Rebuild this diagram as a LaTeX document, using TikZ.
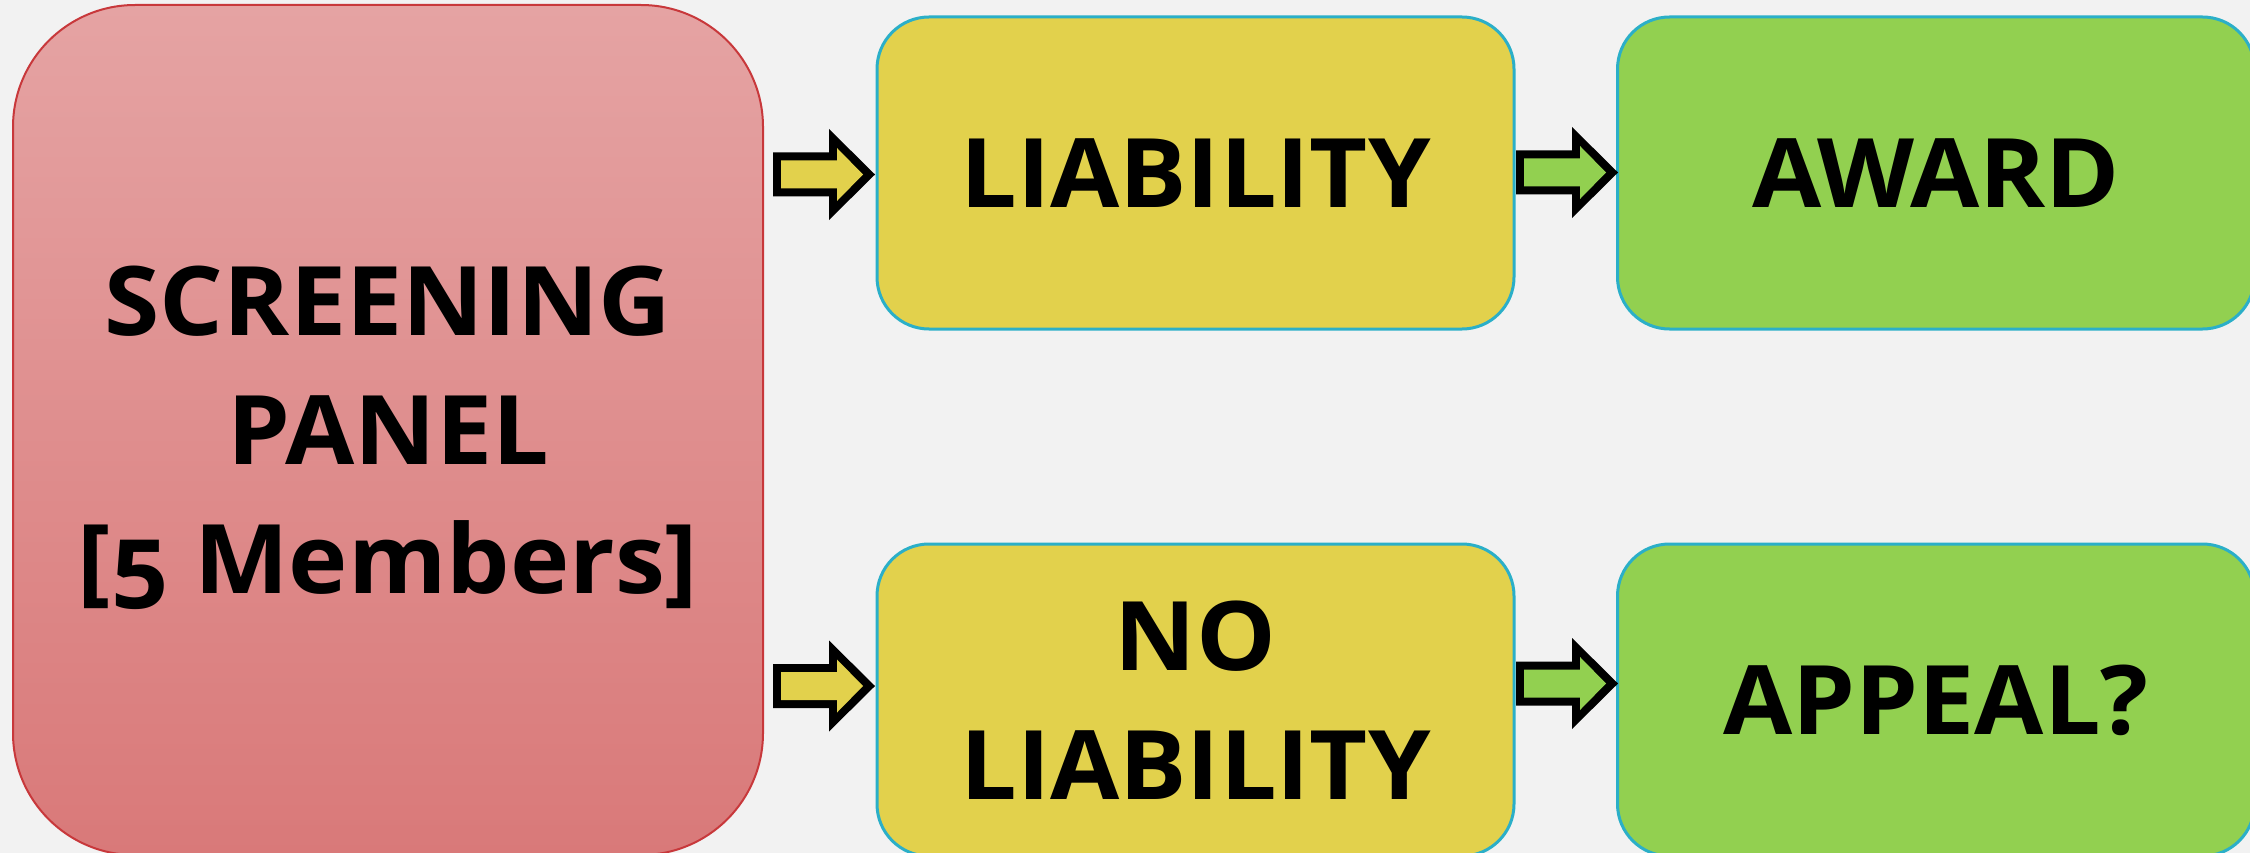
\documentclass[tikz,border=0pt]{standalone}
\usepackage{fontspec}
\setmainfont{Open Sans}[FakeStretch=1.045, Numbers=OldStyle]
\usetikzlibrary{calc}
\definecolor{bg}{HTML}{F2F2F2}
\definecolor{pinktop}{HTML}{E5A3A3}
\definecolor{pinkbot}{HTML}{D97979}
\definecolor{pinkline}{HTML}{C8383B}
\definecolor{yel}{HTML}{E2D14C}
\definecolor{grn}{HTML}{92D050}
\definecolor{cyanline}{HTML}{2BAFC8}
\tikzset{
  panelbox/.style={draw=pinkline, line width=2pt, rounded corners=122pt, top color=pinktop, bottom color=pinkbot,
    minimum width=750pt, minimum height=850pt, inner sep=0pt, align=center, font=\txtfont},
  smallbox/.style={draw=cyanline, line width=3pt, rounded corners=52pt,
    minimum width=637pt, minimum height=312pt, inner sep=0pt, align=center, font=\txtfont},
  yelbox/.style={smallbox, fill=yel},
  grnbox/.style={smallbox, fill=grn}
}
\newcommand\txtfont{\fontsize{96}{129}\selectfont\bfseries}
% #1 outer tip x, #2 centre y, #3 fill colour
\newcommand\myarrow[3]{%
  \fill[black]
    ({#1-102},{#2-22}) -- ({#1-46},{#2-22}) -- ({#1-46},{#2-45.5}) -- ({#1},{#2})
    -- ({#1-46},{#2+45.5}) -- ({#1-46},{#2+22}) -- ({#1-102},{#2+22}) -- cycle;
  \fill[#3]
    ({#1-94},{#2-14}) -- ({#1-38},{#2-14}) -- ({#1-38},{#2-26.5}) -- ({#1-12},{#2})
    -- ({#1-38},{#2+26.5}) -- ({#1-38},{#2+14}) -- ({#1-94},{#2+14}) -- cycle;}
\begin{document}
\begin{tikzpicture}[x=1pt,y=-1pt]
\fill[bg] (0,0) rectangle (2250,853);
\useasboundingbox (0,0) rectangle (2250,853);
\node[panelbox] (panel) at (388,430) {};
\node[font=\txtfont, align=center] (paneltext) at (388,438) {SCREENING\\PANEL\\{[5 Members]}};
\node[yelbox] (liab) at (1195.5,173) {LIABILITY};
\node[grnbox] (award) at (1936,173) {AWARD};
\node[yelbox] (noliab) at (1195.5,700) {NO\\LIABILITY};
\node[grnbox] (appeal) at (1936,700) {APPEAL?};
\myarrow{875}{174.5}{yel}
\myarrow{1618}{172.5}{grn}
\myarrow{875}{686}{yel}
\myarrow{1618}{683.5}{grn}
\end{tikzpicture}
\end{document}
